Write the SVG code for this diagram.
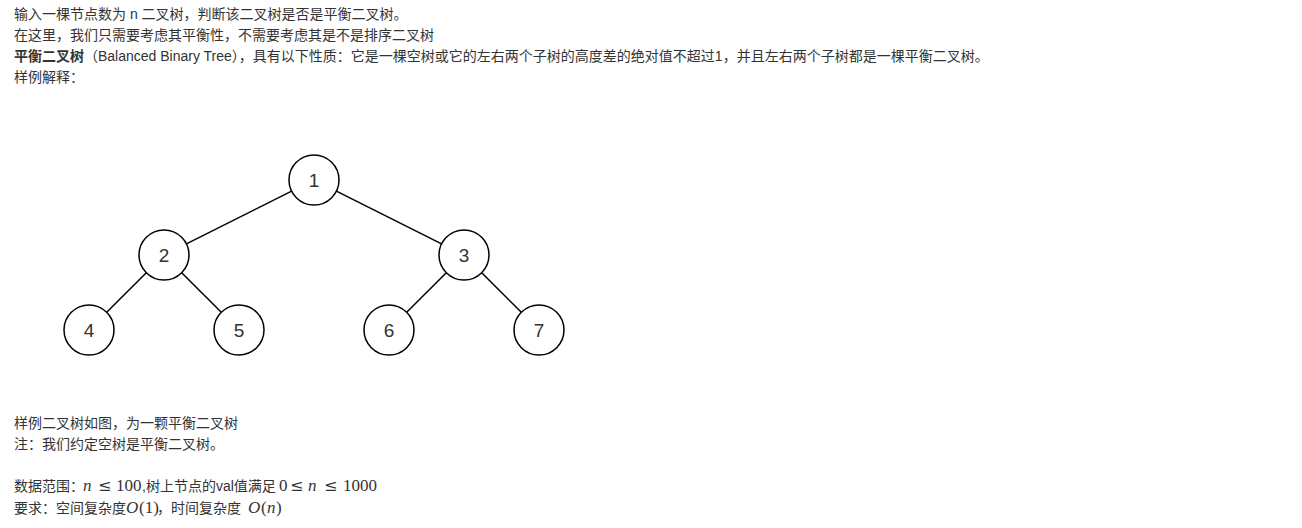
<svg xmlns="http://www.w3.org/2000/svg" width="1302" height="528" viewBox="0 0 1302 528">
  <style>
    .t { font-family: "Liberation Sans", "Noto Sans CJK SC", sans-serif; font-size: 14px; fill: #333; }
    .b { font-weight: bold; }
    .m { font-family: "Liberation Serif", "DejaVu Serif", serif; font-size: 17px; }
    .op { font-family: "DejaVu Serif", serif; font-size: 16px; }
    .mi { font-style: italic; }
    .node circle { fill: #fff; stroke: #000; stroke-width: 1.5; }
    .node text { font-family: "Liberation Sans", Arial, sans-serif; font-size: 19px; fill: #333; text-anchor: middle; }
    .edges line { stroke: #000; stroke-width: 1.5; }
  </style>
  <rect width="1302" height="528" fill="#fff"/>

  <!-- description text -->
  <text class="t" x="14" y="19">输入一棵节点数为 n 二叉树，判断该二叉树是否是平衡二叉树。</text>
  <text class="t" x="14" y="40">在这里，我们只需要考虑其平衡性，不需要考虑其是不是排序二叉树</text>
  <text class="t" x="14" y="61"><tspan class="b">平衡二叉树</tspan>（Balanced Binary Tree），具有以下性质：它是一棵空树或它的左右两个子树的高度差的绝对值不超过1，并且左右两个子树都是一棵平衡二叉树。</text>
  <text class="t" x="14" y="82">样例解释：</text>

  <!-- tree connectors -->
  <g class="edges">
    <line x1="291.6" y1="191.2" x2="186.4" y2="243.8"/>
    <line x1="336.4" y1="191.2" x2="441.6" y2="243.8"/>
    <line x1="146.3" y1="272.7" x2="106.7" y2="312.3"/>
    <line x1="181.7" y1="272.7" x2="221.3" y2="312.3"/>
    <line x1="446.3" y1="272.7" x2="406.7" y2="312.3"/>
    <line x1="481.7" y1="272.7" x2="521.3" y2="312.3"/>
  </g>

  <!-- tree nodes -->
  <g id="node1" class="node"><circle cx="314" cy="180" r="25"/><text x="314" y="187">1</text></g>
  <g id="node2" class="node"><circle cx="164" cy="255" r="25"/><text x="164" y="262">2</text></g>
  <g id="node3" class="node"><circle cx="464" cy="255" r="25"/><text x="464" y="262">3</text></g>
  <g id="node4" class="node"><circle cx="89" cy="330" r="25"/><text x="89" y="337">4</text></g>
  <g id="node5" class="node"><circle cx="239" cy="330" r="25"/><text x="239" y="337">5</text></g>
  <g id="node6" class="node"><circle cx="389" cy="330" r="25"/><text x="389" y="337">6</text></g>
  <g id="node7" class="node"><circle cx="539" cy="330" r="25"/><text x="539" y="337">7</text></g>

  <!-- notes -->
  <text class="t" x="14" y="428">样例二叉树如图，为一颗平衡二叉树</text>
  <text class="t" x="14" y="449">注：我们约定空树是平衡二叉树。</text>

  <text class="t" x="14" y="491">数据范围：<tspan class="m mi" x="83">n</tspan><tspan class="op" x="98">≤</tspan><tspan class="m" x="116">100</tspan><tspan x="142">,树上节点的val值满足</tspan><tspan class="m" x="279">0</tspan><tspan class="op" x="290">≤</tspan><tspan class="m mi" x="308">n</tspan><tspan class="op" x="324">≤</tspan><tspan class="m" x="343">1000</tspan></text>
  <text class="t" x="14" y="513">要求：空间复杂度<tspan class="m mi" x="126">O</tspan><tspan class="m" x="139">(1)</tspan><tspan x="157">，时间复杂度</tspan><tspan class="m mi" x="248">O</tspan><tspan class="m" x="261">(</tspan><tspan class="m mi" x="267">n</tspan><tspan class="m" x="276">)</tspan></text>
</svg>
